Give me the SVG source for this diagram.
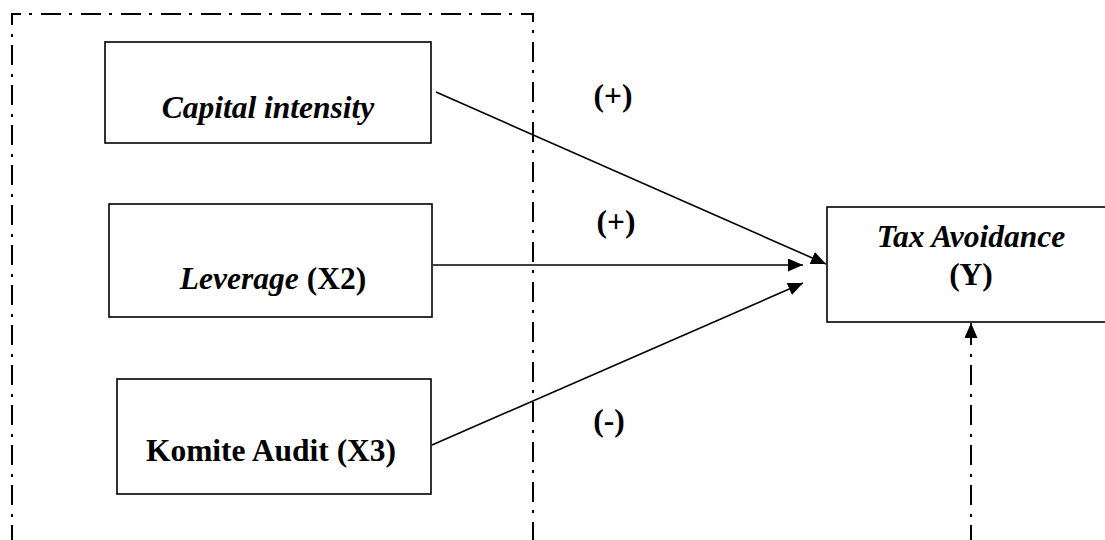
<svg xmlns="http://www.w3.org/2000/svg" width="1105" height="540" viewBox="0 0 1105 540">
<style>
.box{fill:#fff;stroke:#000;stroke-width:1.6}
.lbl{font-family:"Liberation Serif","Times New Roman",serif;font-weight:bold;font-size:31.5px;fill:#000;text-anchor:middle}
.it{font-style:italic}
.edge{stroke:#000;stroke-width:1.6;fill:none}
.dd{stroke:#000;stroke-width:2;fill:none;stroke-dasharray:20 8 3 9}
</style>
<defs>
<marker id="arr" markerUnits="userSpaceOnUse" markerWidth="16" markerHeight="13" refX="15" refY="6.5" orient="auto">
<path d="M0,0 L15,6.5 L0,13 z" fill="#000"/>
</marker>
</defs>
<rect width="1105" height="540" fill="#fff"/>
<path id="group-frame" class="dd" d="M12,545 L12,14 L533,14 L533,545"/>
<g id="connectors">
<line class="edge" x1="436" y1="92" x2="826" y2="264" marker-end="url(#arr)"/>
<line class="edge" x1="433" y1="265" x2="803" y2="265" marker-end="url(#arr)"/>
<line class="edge" x1="432" y1="445" x2="803" y2="283" marker-end="url(#arr)"/>
<line class="dd" x1="971" y1="545" x2="971" y2="338"/>
<line class="edge" x1="971" y1="338" x2="971" y2="323" marker-end="url(#arr)"/>
<text class="lbl" x="613" y="106">(+)</text>
<text class="lbl" x="616" y="232">(+)</text>
<text class="lbl" x="609" y="431">(-)</text>
</g>
<g id="node-capital">
<rect class="box" x="105" y="42" width="326" height="101"/>
<text class="lbl it" x="268" y="118">Capital intensity</text>
</g>
<g id="node-leverage">
<rect class="box" x="109" y="204" width="323" height="113"/>
<text class="lbl" x="273" y="289"><tspan class="it">Leverage</tspan> (X2)</text>
</g>
<g id="node-komite">
<rect class="box" x="117" y="379" width="314" height="115"/>
<text class="lbl" x="271" y="461">Komite Audit (X3)</text>
</g>
<g id="node-tax">
<rect class="box" x="827" y="207" width="290" height="115"/>
<text class="lbl it" x="971" y="247">Tax Avoidance</text>
<text class="lbl" x="971" y="285">(Y)</text>
</g>
</svg>
